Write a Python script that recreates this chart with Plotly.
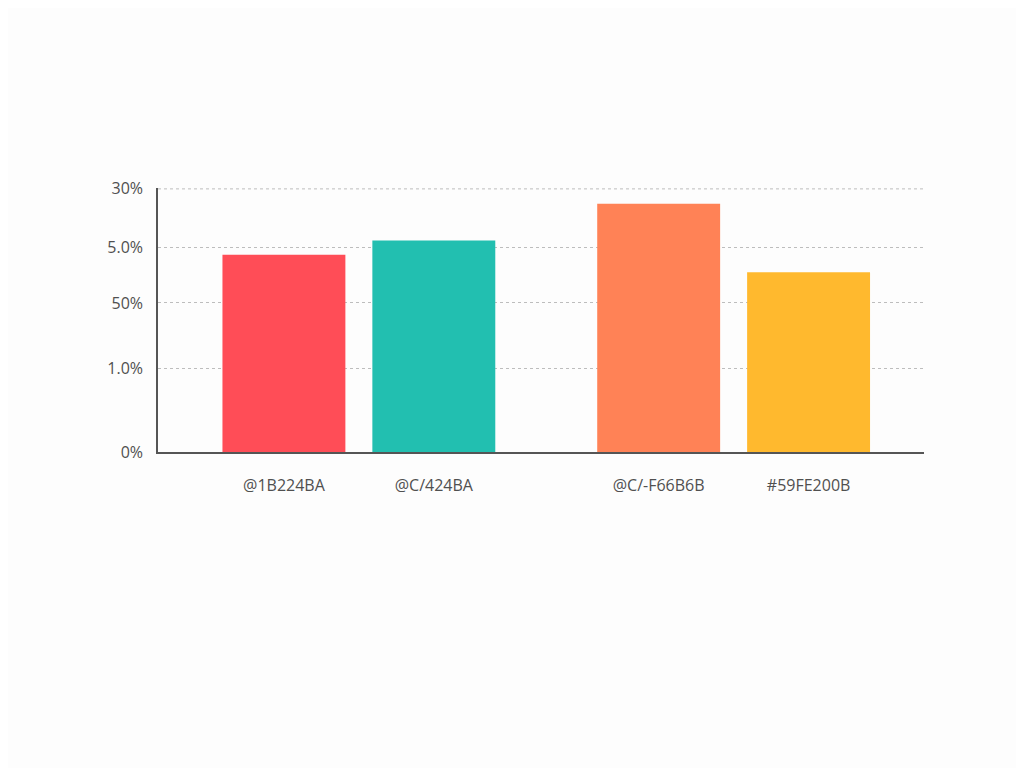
import plotly.graph_objects as go

# bar labels, positions on the x axis and heights (axis units, top of axis = 30)
labels = ["@1B224BA", "@C/424BA", "@C/-F66B6B", "#59FE200B"]
x_pos = [1, 2, 3.5, 4.5]
values = [22.5, 24.1, 28.3, 20.5]
colors = ["#FF4D57", "#22BFB0", "#FF8256", "#FFB92E"]

# the tick labels as they appear on the y axis
tick_vals = [0, 9.5, 17.0, 23.3, 30]
tick_text = ["0%", "1.0%", "50%", "5.0%", "30%"]

fig = go.Figure()
fig.add_trace(go.Bar(x=x_pos, y=values, marker=dict(color=colors, line=dict(width=0)),
                     width=0.82, hoverinfo="skip"))

# top gridline (plotly drops the one on the plot edge)
fig.add_shape(type="line", xref="paper", yref="y", x0=0, x1=1,
              y0=tick_vals[-1], y1=tick_vals[-1],
              line=dict(color="#BDBDBD", width=1, dash="3px,3px"), layer="below")

fig.update_layout(
    width=1024, height=768,
    paper_bgcolor="#FDFDFD", plot_bgcolor="#FDFDFD",
    margin=dict(l=150, r=108, t=180, b=324),
    showlegend=False,
    font=dict(family="Open Sans, DejaVu Sans, sans-serif", size=16, color="#505050"),
)
fig.update_xaxes(
    range=[0.16, 5.27], tickvals=x_pos, ticktext=labels,
    showgrid=False, zeroline=False,
    showline=True, linecolor="#555555", linewidth=1.5,
    ticks="outside", ticklen=18, tickcolor="rgba(0,0,0,0)",
    tickfont=dict(size=16, color="#505050"),
)
fig.update_yaxes(
    range=[0, 30.1], tickvals=tick_vals, ticktext=tick_text,
    showgrid=True, gridcolor="#BDBDBD", griddash="3px,3px", gridwidth=1,
    zeroline=False,
    showline=True, linecolor="#555555", linewidth=1.5,
    ticks="outside", ticklen=10, tickcolor="rgba(0,0,0,0)",
    tickfont=dict(size=16, color="#505050"),
)

fig.write_html("out.html")
